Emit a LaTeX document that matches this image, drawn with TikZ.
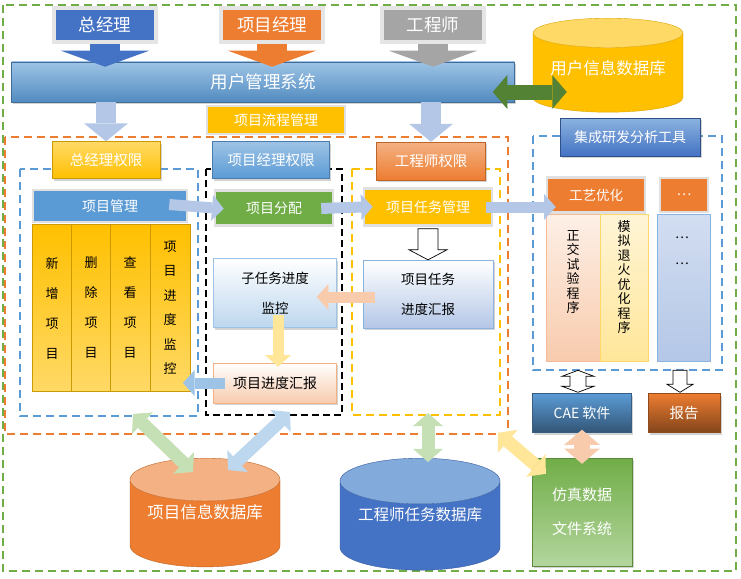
\documentclass[tikz,border=0pt]{standalone}
\usepackage{fontspec}
\setmainfont{Noto Sans CJK SC}
\usetikzlibrary{arrows.meta, positioning, calc, shapes, shadows}
\definecolor{ublue}{RGB}{68,114,196}
\definecolor{lblue}{RGB}{91,155,213}
\definecolor{pblue}{RGB}{157,195,230}
\definecolor{sblue}{RGB}{189,215,238}
\definecolor{gblue}{RGB}{180,199,231}
\definecolor{uorange}{RGB}{237,125,49}
\definecolor{lorange}{RGB}{244,177,131}
\definecolor{porange}{RGB}{248,203,173}
\definecolor{gold}{RGB}{255,192,0}
\definecolor{pgold}{RGB}{255,217,102}
\definecolor{lgold}{RGB}{255,230,153}
\definecolor{ugreen}{RGB}{112,173,71}
\definecolor{dgreen}{RGB}{84,130,53}
\definecolor{pgreen}{RGB}{197,224,180}
\definecolor{ugray}{RGB}{165,165,165}

\begin{document}
\begin{tikzpicture}[x=1pt, y=-1pt,
  box/.style={text=white, inner sep=1pt, font=\fontsize{14}{17}\selectfont},
  frame/.style={draw=black!12, line width=2.5pt},
  shd/.style={drop shadow={shadow xshift=1.5pt, shadow yshift=-2pt, opacity=0.35}},
  region/.style={dash pattern=on 8pt off 5pt, line width=1.3pt},
  actor/.style={box, minimum width=102, minimum height=34, draw=black!10, line width=4pt, font=\fontsize{17.5}{20}\selectfont},
  callout/.style={line width=30pt, -{Triangle[width=88pt, length=16pt, line width=0pt]}, shorten >=-5pt},
  dbase/.style={cylinder, shape border rotate=90, aspect=0.35, anchor=north, text depth=30pt, cylinder uses custom fill, text=white, font=\fontsize{16.5}{20}\selectfont},
  col/.style={minimum width=39.5, minimum height=167, top color=gold, bottom color=pgold, draw=gold!80!black, line width=0.4pt, align=center, font=\fontsize{13}{30}\selectfont},
  vtext/.style={align=center, inner sep=0pt, font=\fontsize{13}{14.5}\selectfont},
  barrow/.style={line width=#1, -{Triangle[width=4pt 2, length=4pt 0.7, line width=0pt]}},
  barrow/.default=11pt,
  dbarrow/.style={line width=#1, {Triangle[width=4pt 2, length=4pt 0.7, line width=0pt]}-{Triangle[width=4pt 2, length=4pt 0.7, line width=0pt]}},
  dbarrow/.default=13pt,
  outl/.style={draw=black, fill=white, line width=0.7pt, line join=miter},
]
\useasboundingbox (0,0) rectangle (741,578);

% dashed frames
\draw[region, ugreen] (3,5) rectangle (736,571);
\draw[region, uorange] (5,137) rectangle (508,434);
\draw[region, lblue] (20,169) rectangle (198,416);
\draw[region, black, dash pattern=on 7pt off 4pt] (206,169) rectangle (342,415);
\draw[region, gold] (352,169) rectangle (500,415);
\draw[region, lblue] (533,136) rectangle (722,370);

% users and user system
\node[actor, fill=ublue] (zjl) at (105,25) {总经理};
\node[actor, fill=uorange] (xmjl) at (272,25) {项目经理};
\node[actor, fill=ugray] (gcs) at (433,25) {工程师};
\node[box, shd, minimum width=503, minimum height=40, top color=pblue, bottom color=lblue!90!black, draw=lblue!70!black, line width=0.5pt, font=\fontsize{17.5}{20}\selectfont] (bar) at (263,82) {用户管理系统};
\draw[callout, ublue] (zjl.south) -- (zjl.south |- bar.north);
\draw[callout, uorange] (xmjl.south) -- (xmjl.south |- bar.north);
\draw[callout, ugray] (gcs.south) -- (gcs.south |- bar.north);

\node[dbase, aspect=0.24, text depth=14pt, cylinder body fill=gold, cylinder end fill=pgold, draw=gold!85!black, minimum width=150, minimum height=94] (udb) at (608,18) {用户信息数据库};
\draw[dbarrow=15pt, dgreen] ($(bar.east)+(-22,10)$) -- ($(bar.east)+(52,10)$);

% permission boxes
\node[box, fill=gold, frame, minimum width=138, minimum height=28] (lct) at (276,120) {项目流程管理};
\node[box, shd, top color=pgold, bottom color=gold, draw=gold!80!black, minimum width=108, minimum height=37, font=\fontsize{14.5}{17}\selectfont] (zq) at (106,160) {总经理权限};
\node[box, shd, top color=pblue, bottom color=lblue, draw=lblue!80!black, minimum width=117, minimum height=37, font=\fontsize{14.5}{17}\selectfont] (pq) at (271,160) {项目经理权限};
\node[box, shd, top color=lorange, bottom color=uorange, draw=uorange!80!black, minimum width=109, minimum height=38, font=\fontsize{14.5}{17}\selectfont] (eq) at (431,161) {工程师权限};
\node[box, shd, top color=pblue!80!ublue, bottom color=ublue, draw=ublue!70!black, minimum width=140, minimum height=38] (tq) at (630,137) {集成研发分析工具};
\draw[barrow=20pt, gblue] (bar.south -| zq.north) -- (zq.north);
\draw[barrow=20pt, gblue] (bar.south -| eq.north) -- (eq.north);

% general manager
\node[box, fill=lblue, frame, minimum width=154, minimum height=32] (pm) at (110,206) {项目管理};
\node[col] (c1) at (52,308) {新\\增\\项\\目};
\node[col] (c2) at (91,308) {删\\除\\项\\目};
\node[col] (c3) at (130,308) {查\\看\\项\\目};
\node[col, font=\fontsize{13}{24.5}\selectfont] (c4) at (170,308) {项\\目\\进\\度\\监\\控};

% project manager
\node[box, fill=ugreen, frame, minimum width=118, minimum height=35] (fp) at (274,208) {项目分配};
\node[shd, top color=white, bottom color=sblue, draw=pblue, minimum width=123, minimum height=69, align=center, font=\fontsize{13.5}{30}\selectfont] (sub) at (275,293) {子任务进度\\监控};
\node[shd, top color=white, bottom color=porange, draw=lorange, minimum width=123, minimum height=40, font=\fontsize{14}{17}\selectfont] (prog) at (275,383) {项目进度汇报};

% engineer
\node[box, fill=gold, frame, minimum width=128, minimum height=37] (tm) at (428,207) {项目任务管理};
\node[shd, top color=white, bottom color=gblue, draw=pblue!80!ublue, minimum width=130, minimum height=68, align=center, font=\fontsize{13.5}{30}\selectfont] (rep) at (428,294) {项目任务\\进度汇报};

% analysis tools
\node[box, fill=uorange, frame, minimum width=98, minimum height=35, font=\fontsize{13.5}{17}\selectfont] (gy) at (596,195) {工艺优化};
\node[box, fill=uorange, frame, minimum width=48, minimum height=34] (dh) at (684,195) {…};
\node[top color=white!70!porange, bottom color=porange, draw=porange!80!uorange, minimum width=54, minimum height=147] (zj) at (573,288) {};
\node[top color=white!60!lgold, bottom color=lgold, draw=pgold, minimum width=48, minimum height=147] (mn) at (624,288) {};
\node[top color=gblue!60, bottom color=gblue, draw=pblue!80!ublue, minimum width=53, minimum height=147] (dc) at (684,288) {};
\node[vtext, anchor=north] (zjt) at ($(zj.north)+(0,16)$) {正\\交\\试\\验\\程\\序};
\node[vtext, anchor=north] (mnt) at ($(mn.north)+(0,6)$) {模\\拟\\退\\火\\优\\化\\程\\序};
\node[vtext, font=\fontsize{13}{26}\selectfont] (dct) at ($(dc.north)+(-2,36)$) {…\\…};
\node[box, shd, top color=lblue, bottom color=lblue!55!black, draw=lblue!60!black, minimum width=99, minimum height=39] (cae) at (582,413) {CAE 软件};
\node[box, shd, top color=uorange, bottom color=uorange!55!black, draw=uorange!60!black, minimum width=72, minimum height=39, font=\fontsize{14.5}{17}\selectfont] (bg) at (684,413) {报告};

% databases
\node[dbase, cylinder body fill=uorange, cylinder end fill=lorange, draw=uorange!80!black, minimum width=150, minimum height=108] (pdb) at (205,458) {项目信息数据库};
\node[dbase, cylinder body fill=ublue, cylinder end fill=pblue!70!ublue, draw=ublue!80!black, minimum width=160, minimum height=108, font=\fontsize{15.5}{20}\selectfont] (edb) at (420,458) {工程师任务数据库};
\node[box, shd, top color=ugreen, bottom color=pgreen!80!ugreen, draw=ugreen!80!black, minimum width=100, minimum height=108, align=center, font=\fontsize{15}{34}\selectfont] (fs) at (582,512) {仿真数据\\文件系统};

% flow arrows
\draw[barrow, gblue, shorten <=-19pt, shorten >=-10pt] (pm.east) -- (fp.west);
\draw[barrow, gblue, shorten <=-13pt, shorten >=-10pt] (fp.east) -- (tm.west);
\draw[barrow, gblue, shorten <=-7pt, shorten >=-10pt] (tm.east) -- (tm.east -| zj.west);
\draw[barrow, porange, shorten <=-12pt, shorten >=-20pt] (rep.west |- 0,297) -- (sub.east |- 0,297);
\draw[barrow, lgold, shorten <=-13pt, shorten >=-4pt] (sub.south -| 278,0) -- (prog.north -| 278,0);
\draw[barrow, pblue, shorten <=-12pt, shorten >=-7pt] (prog.west) -- (c4.east |- prog.west);
\draw[outl] ($(tm.south)+(-10,2)$) |- ($(rep.north)+(-19,-10)$) -- (rep.north) -- ++(19,-10) -| ($(tm.south)+(10,2)$) -- cycle;
\draw[outl] ($(cae.north)+(-4,-1)$) -- ++(-16,-6) -- ++(8,0) -- ++(0,-10) -- ++(-8,0) -- ++(16,-6) -- ++(16,6) -- ++(-8,0) -- ++(0,10) -- ++(8,0) -- cycle;
\draw[outl] ($(bg.north)+(-4,-1)$) -- ++(-13,-8) -- ++(6,0) -- ++(0,-14) -- ++(14,0) -- ++(0,14) -- ++(6,0) -- cycle;

% database arrows
\draw[dbarrow, pgreen] ($(pdb.north)+(-72,-44)$) -- ($(pdb.north)+(-12,14)$);
\draw[dbarrow, sblue] ($(pdb.north)+(85,-46)$) -- ($(pdb.north)+(23,12)$);
\draw[dbarrow, pgreen] ($(edb.north)+(8,-45)$) -- ($(edb.north)+(8,4)$);
\draw[dbarrow, lgold] ($(fs.north west)+(-34,-25)$) -- ($(fs.north west)+(14,16)$);
\draw[dbarrow=16pt, porange, shorten <=-3pt, shorten >=-6pt] (cae.south) -- (fs.north);
\end{tikzpicture}
\end{document}
